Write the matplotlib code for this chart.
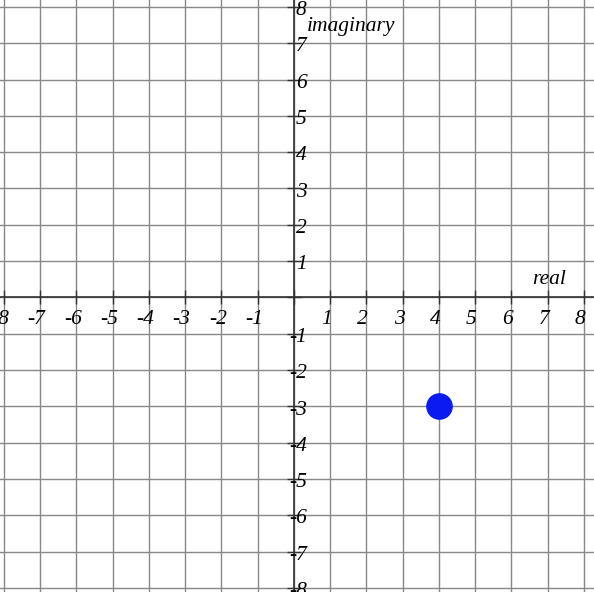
import matplotlib
matplotlib.use("Agg")
import matplotlib.pyplot as plt
import numpy as np

ticks = list(range(-8, 9))
point_x = [4]
point_y = [-3]
x_label = "real"
y_label = "imaginary"

fig = plt.figure(figsize=(5.94, 5.92), dpi=100)
ax = fig.add_axes([0, 0, 1, 1])
ax.set_xlim(-8.11, 8.28)
ax.set_ylim(-8.11, 8.19)
for t in ticks:
    ax.axvline(t, color="#888888", lw=1, zorder=1)
    ax.axhline(t, color="#888888", lw=1, zorder=1)
ax.axvline(0, color="#333333", lw=1.2, zorder=2)
ax.axhline(0, color="#333333", lw=1.2, zorder=2)
ax.plot(ticks, [0]*len(ticks), ls="none", marker="|", ms=10, color="#333333", zorder=2)
ax.plot([0]*len(ticks), ticks, ls="none", marker="_", ms=10, color="#333333", zorder=2)
ax.set_axis_off()

fk = dict(family="Liberation Serif", style="italic", fontsize=15.5, color="black")
for t in ticks:
    if t != 0:
        ax.text(t - 0.1, -0.62, str(t), ha="center", va="center", **fk)
        ax.text(0.35, t - 0.1, str(t), ha="right", va="center", **fk)
ax.text(7.5, 0.5, x_label, ha="right", va="center", **fk)
ax.text(0.35, 7.45, y_label, ha="left", va="center", **fk)

ax.scatter(point_x, point_y, s=330, color="#0a1af0", zorder=5)
fig.savefig("out.png", dpi=100)
